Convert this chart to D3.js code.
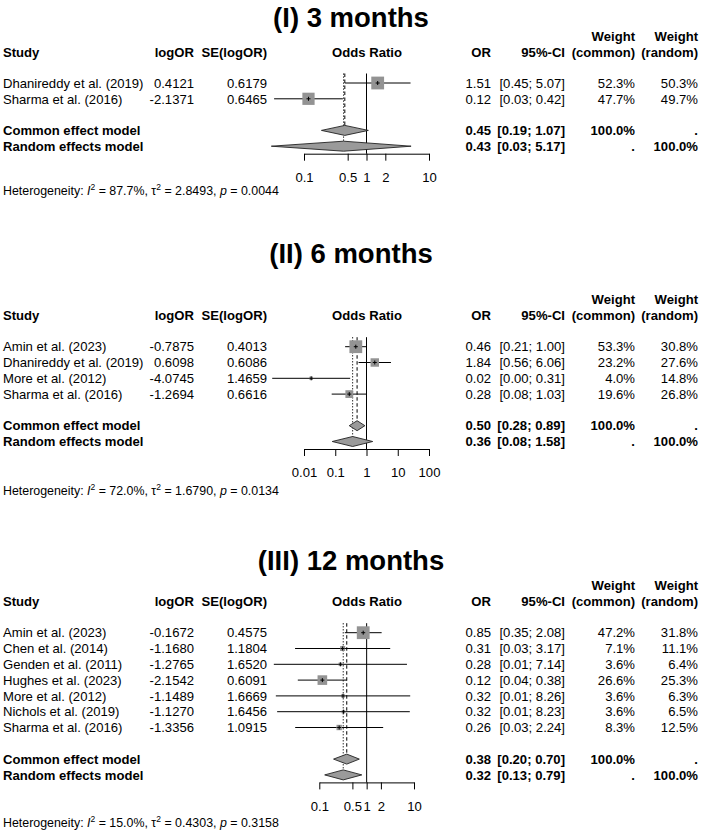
<!DOCTYPE html>
<html><head><meta charset="utf-8">
<script src="https://cdn.jsdelivr.net/npm/d3@7/dist/d3.min.js"></script>
<style>body{margin:0;background:#fff}svg{display:block;font-family:"Liberation Sans",Arial,Helvetica,sans-serif}</style>
</head><body><svg id="c" width="702" height="831"></svg>
<script>
// ---------- DATA ----------
const panelTitles = ["(I) 3 months", "(II) 6 months", "(III) 12 months"];

// (I) 3 months
const studiesA = ["Dhanireddy et al. (2019)", "Sharma et al. (2016)"];
const logOrA = [0.4121, -2.1371];
const seA = [0.6179, 0.6465];
const orA = ["1.51", "0.12"];
const ciA = ["[0.45; 5.07]", "[0.03; 0.42]"];
const wCommonA = [52.3, 47.7];
const wRandomA = [50.3, 49.7];
const commonA = [0.45, 0.19, 1.07];
const randomA = [0.43, 0.03, 5.17];
const hetA = ["87.7%", "2.8493", "0.0044"];
const ticksA = [0.1, 0.5, 1, 2, 10];

// (II) 6 months
const studiesB = ["Amin et al. (2023)", "Dhanireddy et al. (2019)", "More et al. (2012)", "Sharma et al. (2016)"];
const logOrB = [-0.7875, 0.6098, -4.0745, -1.2694];
const seB = [0.4013, 0.6086, 1.4659, 0.6616];
const orB = ["0.46", "1.84", "0.02", "0.28"];
const ciB = ["[0.21; 1.00]", "[0.56; 6.06]", "[0.00; 0.31]", "[0.08; 1.03]"];
const wCommonB = [53.3, 23.2, 4.0, 19.6];
const wRandomB = [30.8, 27.6, 14.8, 26.8];
const commonB = [0.50, 0.28, 0.89];
const randomB = [0.36, 0.08, 1.58];
const hetB = ["72.0%", "1.6790", "0.0134"];
const ticksB = [0.01, 0.1, 1, 10, 100];

// (III) 12 months
const studiesC = ["Amin et al. (2023)", "Chen et al. (2014)", "Genden et al. (2011)", "Hughes et al. (2023)", "More et al. (2012)", "Nichols et al. (2019)", "Sharma et al. (2016)"];
const logOrC = [-0.1672, -1.1680, -1.2765, -2.1542, -1.1489, -1.1270, -1.3356];
const seC = [0.4575, 1.1804, 1.6520, 0.6091, 1.6669, 1.6456, 1.0915];
const orC = ["0.85", "0.31", "0.28", "0.12", "0.32", "0.32", "0.26"];
const ciC = ["[0.35; 2.08]", "[0.03; 3.17]", "[0.01; 7.14]", "[0.04; 0.38]", "[0.01; 8.26]", "[0.01; 8.23]", "[0.03; 2.24]"];
const wCommonC = [47.2, 7.1, 3.6, 26.6, 3.6, 3.6, 8.3];
const wRandomC = [31.8, 11.1, 6.4, 25.3, 6.3, 6.5, 12.5];
const commonC = [0.38, 0.20, 0.70];
const randomC = [0.32, 0.13, 0.79];
const hetC = ["15.0%", "0.4303", "0.3158"];
const ticksC = [0.1, 0.5, 1, 2, 10];

// ---------- build panel table ----------
const panels = [
  {title: panelTitles[0], studies: studiesA, logOr: logOrA, se: seA, or: orA, ci: ciA, wc: wCommonA, wr: wRandomA, common: commonA, random: randomA, het: hetA, ticks: ticksA},
  {title: panelTitles[1], studies: studiesB, logOr: logOrB, se: seB, or: orB, ci: ciB, wc: wCommonB, wr: wRandomB, common: commonB, random: randomB, het: hetB, ticks: ticksB},
  {title: panelTitles[2], studies: studiesC, logOr: logOrC, se: seC, or: orC, ci: ciC, wc: wCommonC, wr: wRandomC, common: commonC, random: randomC, het: hetC, ticks: ticksC}
];

// ---------- layout ----------
const layout = [
  {titleY: 27, row1: 83, x0: 304, x1: 429, hetY: 195},
  {titleY: 263, row1: 346.7, x0: 304, x1: 429, hetY: 494.5},
  {titleY: 570, row1: 632.7, x0: 319.3, x1: 414, hetY: 826.5}
];
const FS = 13.1, DY = 4.7, STEP = 15.8;
const col = {study: 3, logor: 194, se: 267, orHead: 367, or: 491, ci: 565, wc: 635, wr: 698};
const SQ = "#939393", DIA = "#9a9a9a";

const svg = d3.select("#c");
svg.append("rect").attr("width", 702).attr("height", 831).attr("fill", "#fff");

function txt(g, x, y, s, anchor, bold, size) {
  return g.append("text").attr("x", x).attr("y", y)
    .attr("text-anchor", anchor || "start")
    .attr("font-weight", bold ? "bold" : "normal")
    .attr("font-size", size || FS).attr("fill", "#000").text(s);
}

panels.forEach((p, i) => {
  const L = layout[i];
  const g = svg.append("g");
  const x = d3.scaleLog().domain(d3.extent(p.ticks)).range([L.x0, L.x1]);

  txt(g, 351, L.titleY, p.title, "middle", true, 27.5);

  const hY = L.row1 - 31 + DY;
  txt(g, col.study, hY, "Study", "start", true);
  txt(g, col.logor, hY, "logOR", "end", true);
  txt(g, col.se, hY, "SE(logOR)", "end", true);
  txt(g, col.orHead, hY, "Odds Ratio", "middle", true);
  txt(g, col.or, hY, "OR", "end", true);
  txt(g, col.ci, hY, "95%-CI", "end", true);
  txt(g, col.wc, hY - 16, "Weight", "end", true);
  txt(g, col.wc, hY, "(common)", "end", true);
  txt(g, col.wr, hY - 16, "Weight", "end", true);
  txt(g, col.wr, hY, "(random)", "end", true);

  const rowY = k => L.row1 + k * STEP;
  const n = p.studies.length;
  const cY = rowY(n + 1), rY = rowY(n + 2);
  const axisY = rY + 7.5;
  const top = L.row1 - 9.5;

  // reference lines
  g.append("line").attr("x1", x(1)).attr("x2", x(1)).attr("y1", top).attr("y2", axisY)
    .attr("stroke", "#000").attr("stroke-width", 1);
  g.append("line").attr("x1", x(p.common[0])).attr("x2", x(p.common[0])).attr("y1", top).attr("y2", cY)
    .attr("stroke", "#000").attr("stroke-width", 1).attr("stroke-dasharray", "3.5,2.5");
  g.append("line").attr("x1", x(p.random[0])).attr("x2", x(p.random[0])).attr("y1", top).attr("y2", rY)
    .attr("stroke", "#000").attr("stroke-width", 1).attr("stroke-dasharray", "1.2,1.8");

  const maxW = d3.max(p.wc);
  p.studies.forEach((s, k) => {
    const y = rowY(k), ty = y + DY;
    txt(g, col.study, ty, s, "start");
    txt(g, col.logor, ty, p.logOr[k].toFixed(4), "end");
    txt(g, col.se, ty, p.se[k].toFixed(4), "end");
    txt(g, col.or, ty, p.or[k], "end");
    txt(g, col.ci, ty, p.ci[k], "end");
    txt(g, col.wc, ty, p.wc[k].toFixed(1) + "%", "end");
    txt(g, col.wr, ty, p.wr[k].toFixed(1) + "%", "end");

    const est = Math.exp(p.logOr[k]);
    const lo = Math.exp(p.logOr[k] - 1.96 * p.se[k]);
    const hi = Math.exp(p.logOr[k] + 1.96 * p.se[k]);
    g.append("line").attr("x1", x(lo)).attr("x2", x(hi)).attr("y1", y).attr("y2", y)
      .attr("stroke", "#000").attr("stroke-width", 1);
    const side = 12.8 * Math.sqrt(p.wc[k] / maxW);
    g.append("rect").attr("x", x(est) - side / 2).attr("y", y - side / 2)
      .attr("width", side).attr("height", side).attr("fill", SQ);
    const cs = Math.min(2, side / 2);
    g.append("line").attr("x1", x(est) - cs).attr("x2", x(est) + cs).attr("y1", y).attr("y2", y)
      .attr("stroke", "#000").attr("stroke-width", 1);
    g.append("line").attr("x1", x(est)).attr("x2", x(est)).attr("y1", y - 2).attr("y2", y + 2)
      .attr("stroke", "#000").attr("stroke-width", 1);
  });

  // summary rows
  const summ = [
    {label: "Common effect model", v: p.common, y: cY, wc: "100.0%", wr: "."},
    {label: "Random effects model", v: p.random, y: rY, wc: ".", wr: "100.0%"}
  ];
  summ.forEach(s => {
    const ty = s.y + DY;
    txt(g, col.study, ty, s.label, "start", true);
    txt(g, col.or, ty, s.v[0].toFixed(2), "end", true);
    txt(g, col.ci, ty, "[" + s.v[1].toFixed(2) + "; " + s.v[2].toFixed(2) + "]", "end", true);
    txt(g, col.wc, ty, s.wc, "end", true);
    txt(g, col.wr, ty, s.wr, "end", true);
    const h = 5;
    const pts = [[x(s.v[1]), s.y], [x(s.v[0]), s.y - h], [x(s.v[2]), s.y], [x(s.v[0]), s.y + h]];
    g.append("path").attr("d", "M" + pts.map(q => q.join(",")).join("L") + "Z")
      .attr("fill", DIA).attr("stroke", "#222").attr("stroke-width", 0.9);
  });

  // axis
  const ax = g.append("g").attr("transform", `translate(0,${axisY})`)
    .call(d3.axisBottom(x).tickValues(p.ticks).tickSize(7).tickSizeOuter(0).tickPadding(12)
      .tickFormat(d => String(d)));
  ax.attr("font-family", null).attr("font-size", FS);
  ax.selectAll("path,line").attr("stroke", "#000").attr("stroke-width", 1);
  ax.selectAll("text").attr("fill", "#000");

  // heterogeneity
  const ht = g.append("text").attr("x", col.study).attr("y", L.hetY).attr("font-size", 12.4).attr("fill", "#000");
  ht.append("tspan").text("Heterogeneity: ");
  ht.append("tspan").attr("font-style", "italic").text("I");
  ht.append("tspan").attr("font-size", 8.5).attr("dy", -5).text("2");
  ht.append("tspan").attr("dy", 5).text(" = " + p.het[0] + ", \u03C4");
  ht.append("tspan").attr("font-size", 8.5).attr("dy", -5).text("2");
  ht.append("tspan").attr("dy", 5).text(" = " + p.het[1] + ", ");
  ht.append("tspan").attr("font-style", "italic").text("p");
  ht.append("tspan").text(" = " + p.het[2]);
});
</script>
</body></html>
